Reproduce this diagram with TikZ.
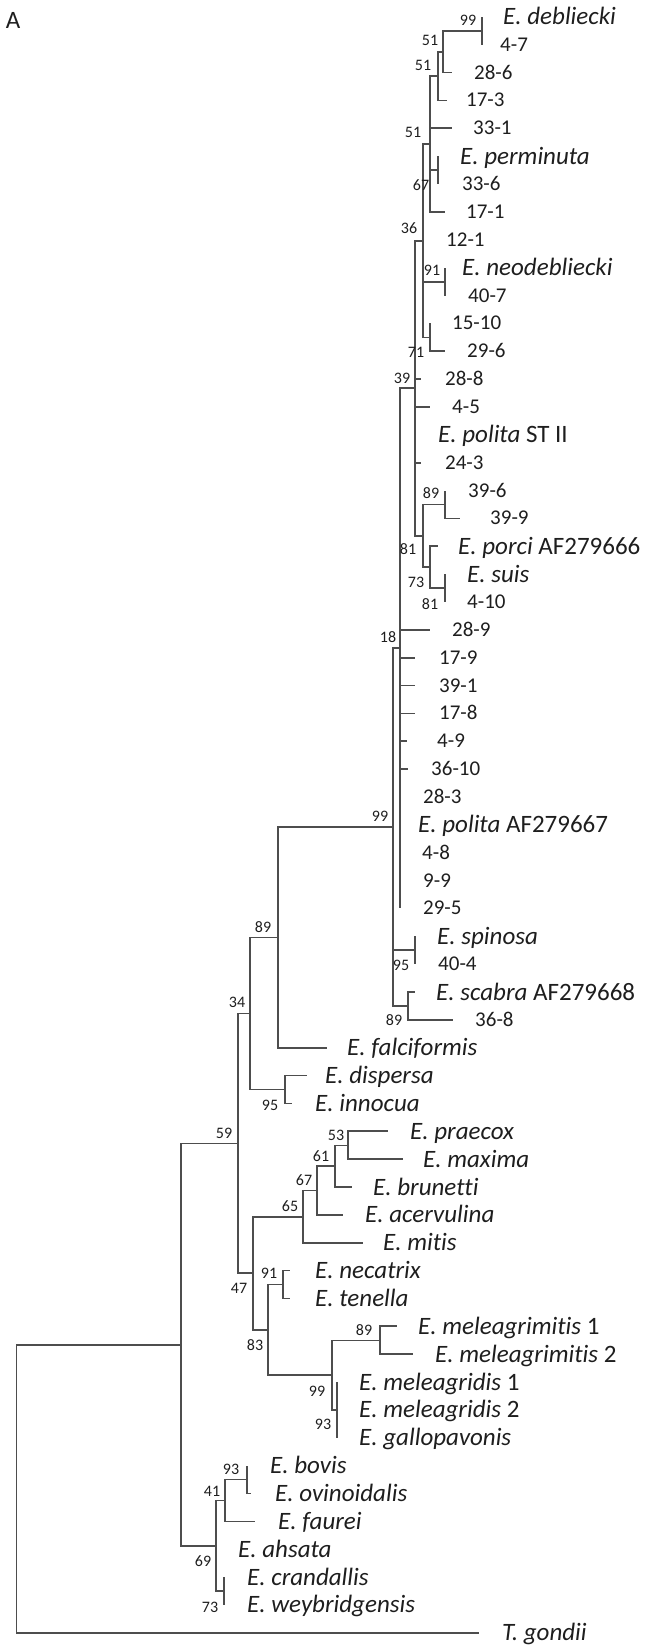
\documentclass[tikz,border=0pt]{standalone}
\usepackage{fontspec}
\setmainfont{Carlito}[Ligatures=NoCommon]
\usetikzlibrary{calc,positioning}

\definecolor{linegray}{HTML}{4D4D4D}
\definecolor{txtgray}{HTML}{1E1E1E}
\newcommand\spfont{\fontsize{25}{30}\selectfont}
\newcommand\isofont{\fontsize{21}{25}\selectfont}
\newcommand\bsfont{\fontsize{16}{19}\selectfont}

\tikzset{
  br/.style={draw=linegray, line width=1.7pt,
    every edge/.style={draw, to path={|- (\tikztotarget)}}},
  sp/.style={anchor=base west, inner sep=0pt, text=txtgray, font=\spfont},
  iso/.style={anchor=base west, inner sep=0pt, text=txtgray, font=\isofont},
  bs/.style={inner sep=0pt, text=txtgray, font=\bsfont},
}

\begin{document}
\begin{tikzpicture}[x=1pt, y=-1pt]
  \useasboundingbox (0,0) rectangle (648,1646);
  \node[inner sep=0pt, text=txtgray, font=\spfont] (panel) at (13,20) {A};

  % isolates: index/branch end/text x/label
  \foreach \i/\ex/\tx/\lab in {
    2/482/500/4-7, 3/452/474/28-6, 4/447/466/17-3, 5/452/473/33-1,
    7/438/462/33-6, 8/445/466/17-1, 9/423/446/12-1, 11/445/468/40-7,
    12/430/452/15-10, 13/445/467/29-6, 14/421/445/28-8, 15/430/452/4-5,
    17/421/445/24-3, 18/445/468/39-6, 19/460/490/39-9, 22/445/467/4-10,
    23/430/452/28-9, 24/415/439/17-9, 25/415/439/39-1, 26/415/439/17-8,
    27/407/437/4-9, 28/408/431/36-10, 29/400/423/28-3, 31/400/422/4-8,
    32/400/423/9-9, 33/400/423/29-5, 35/415/438/40-4, 37/453/475/36-8}{
    \pgfmathsetmacro\yy{16.9+(\i-1)*27.86}
    \coordinate (e\i) at (\ex,\yy);
    \node[iso] (t\i) at (\tx,{\yy+6.5}) {\lab};
  }

  % species
  \foreach \i/\ex/\tx/\lab in {
    1/482/503/{\textit{E. debliecki}},
    6/438/460/{\textit{E. perminuta}},
    10/445/462/{\textit{E. neodebliecki}},
    16/415/438/{\textit{E. polita} ST II},
    20/438/458/{\textit{E. porci} AF279666},
    21/445/467/{\textit{E. suis}},
    30/400/418/{\textit{E. polita} AF279667},
    34/415/437/{\textit{E. spinosa}},
    36/415/436/{\textit{E. scabra} AF279668},
    38/327/347/{\textit{E. falciformis}},
    39/307/325/{\textit{E. dispersa}},
    40/292/315/{\textit{E. innocua}},
    41/388/410/{\textit{E. praecox}},
    42/403/423/{\textit{E. maxima}},
    43/352/373/{\textit{E. brunetti}},
    44/343/365/{\textit{E. acervulina}},
    45/363/383/{\textit{E. mitis}},
    46/290/315/{\textit{E. necatrix}},
    47/290/315/{\textit{E. tenella}},
    48/397/418/{\textit{E. meleagrimitis} 1},
    49/413/435/{\textit{E. meleagrimitis} 2},
    50/337/359/{\textit{E. meleagridis} 1},
    51/337/359/{\textit{E. meleagridis} 2},
    52/337/359/{\textit{E. gallopavonis}},
    53/247/270/{\textit{E. bovis}},
    54/251/275/{\textit{E. ovinoidalis}},
    55/255/278/{\textit{E. faurei}},
    56/216/238/{\textit{E. ahsata}},
    57/224/247/{\textit{E. crandallis}},
    58/224/247/{\textit{E. weybridgensis}},
    59/479/502/{\textit{T. gondii}}}{
    \pgfmathsetmacro\yy{16.9+(\i-1)*27.86}
    \coordinate (e\i) at (\ex,\yy);
    \node[sp] (t\i) at (\tx,{\yy+8}) {\lab};
  }

  % internal nodes
  \coordinate (n99a) at (482,31.0);
  \coordinate (n51a) at (443,51.8);
  \coordinate (n51b) at (438,76.2);
  \coordinate (n51c) at (430,144.2);
  \coordinate (n67a) at (438,170.2);
  \coordinate (n36) at (423,240.8);
  \coordinate (n91a) at (445,282.1);
  \coordinate (n71) at (430,337.4);
  \coordinate (n39) at (415,388.3);
  \coordinate (n89a) at (445,504.5);
  \coordinate (n73a) at (430,567.2);
  \coordinate (n81b) at (445,588.1);
  \coordinate (n81a) at (423,535.9);
  \coordinate (n18) at (400,648.2);
  \coordinate (n99b) at (393,827.2);
  \coordinate (n95a) at (415,950.3);
  \coordinate (n89b) at (408,1006.1);
  \coordinate (n89c) at (278,937.5);
  \coordinate (n95b) at (285,1089.6);
  \coordinate (n34) at (250,1013.6);
  \coordinate (n53) at (348,1145.4);
  \coordinate (n61) at (335,1166.3);
  \coordinate (n67b) at (317,1190.6);
  \coordinate (n65) at (303,1216.8);
  \coordinate (n91b) at (283,1284.6);
  \coordinate (n89d) at (380,1340.4);
  \coordinate (n93a) at (337,1410.0);
  \coordinate (n99c) at (332,1375.2);
  \coordinate (n83) at (268,1329.9);
  \coordinate (n47) at (253,1273.3);
  \coordinate (n59) at (238,1143.5);
  \coordinate (n93b) at (247,1479.6);
  \coordinate (n41) at (225,1500.5);
  \coordinate (n73b) at (224,1591.1);
  \coordinate (n69) at (216,1545.8);
  \coordinate (nx) at (181,1344.7);
  \coordinate (root) at (16.5,1488.8);

  \path[br]
  (n99a) edge (e1) edge (e2)
  (n51a) edge (n99a) edge (e3)
  (n51b) edge (n51a) edge (e4)
  (n51c) edge (n51b) edge (e5) edge (n67a) edge (e8)
  (n67a) edge (e6) edge (e7)
  (n36) edge (n51c) edge (e9) edge (n91a) edge (n71)
  (n91a) edge (e10) edge (e11)
  (n71) edge (e12) edge (e13)
  (n39) edge (n36) edge (e14) edge (e15) edge (e16) edge (e17) edge (n81a)
  (n81a) edge (n89a) edge (n73a)
  (n89a) edge (e18) edge (e19)
  (n73a) edge (e20) edge (n81b)
  (n81b) edge (e21) edge (e22)
  (n18) edge (n39) edge (e23) edge (e24) edge (e25) edge (e26) edge (e27)
        edge (e28) edge (e29) edge (e30) edge (e31) edge (e32) edge (e33)
  (n99b) edge (n18) edge (n95a) edge (n89b)
  (n95a) edge (e34) edge (e35)
  (n89b) edge (e36) edge (e37)
  (n89c) edge (n99b) edge (e38)
  (n34) edge (n89c) edge (n95b)
  (n95b) edge (e39) edge (e40)
  (n59) edge (n34) edge (n47)
  (n47) edge (n65) edge (n83)
  (n65) edge (n67b) edge (e45)
  (n67b) edge (n61) edge (e44)
  (n61) edge (n53) edge (e43)
  (n53) edge (e41) edge (e42)
  (n83) edge (n91b) edge (n99c)
  (n91b) edge (e46) edge (e47)
  (n99c) edge (n89d) edge (n93a)
  (n89d) edge (e48) edge (e49)
  (n93a) edge (e50) edge (e51) edge (e52)
  (nx) edge (n59) edge (n69)
  (n69) edge (n41) edge (e56) edge (n73b)
  (n41) edge (n93b) edge (e55)
  (n93b) edge (e53) edge (e54)
  (n73b) edge (e57) edge (e58)
  (root) edge (nx) edge (e59);

  % bootstrap values
  \foreach \bx/\by/\bv [count=\c] in {
    468/20/99, 430/40/51, 423/65/51, 413/132/51, 421/185/67, 409/228/36,
    432/270/91, 416/352/71, 402/378/39, 431/493/89, 408/549/81, 416/582/73,
    430/604/81, 388/637/18, 380/816/99, 401/965/95, 394/1020/89, 263/927/89,
    237/1002/34, 270/1105/95, 224/1133/59, 336/1135/53, 321/1156/61,
    304/1180/67, 290/1206/65, 269/1273/91, 239/1288/47, 255/1345/83,
    364/1330/89, 317/1391/99, 323/1424/93, 231/1469/93, 212/1491/41,
    203/1561/69, 210/1607/73}{
    \node[bs] (b\c) at (\bx,\by) {\bv};
  }
\end{tikzpicture}
\end{document}
